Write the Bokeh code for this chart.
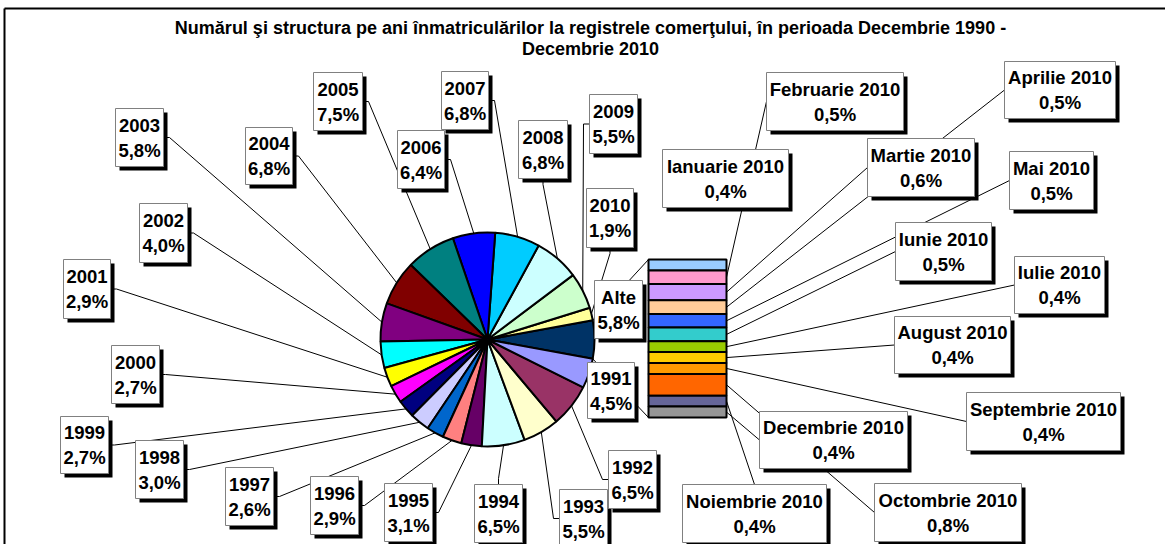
import math
from bokeh.plotting import figure
from bokeh.models import Range1d
from bokeh.embed import file_html
from bokeh.resources import INLINE
from bokeh.core.properties import value

# ---------------- data ----------------
title_lines = [
    "Numărul şi structura pe ani înmatriculărilor la registrele comerţului, în perioada Decembrie 1990 -",
    "Decembrie 2010",
]
years = ["1991", "1992", "1993", "1994", "1995", "1996", "1997", "1998", "1999", "2000",
         "2001", "2002", "2003", "2004", "2005", "2006", "2007", "2008", "2009", "2010"]
year_pct = [4.5, 6.5, 5.5, 6.5, 3.1, 2.9, 2.6, 3.0, 2.7, 2.7,
            2.9, 4.0, 5.8, 6.8, 7.5, 6.4, 6.8, 6.8, 5.5, 1.9]
other_label = "Alte"
months = ["Ianuarie 2010", "Februarie 2010", "Martie 2010", "Aprilie 2010", "Mai 2010",
          "Iunie 2010", "Iulie 2010", "August 2010", "Septembrie 2010", "Octombrie 2010",
          "Noiembrie 2010", "Decembrie 2010"]
month_pct = [0.4, 0.5, 0.6, 0.5, 0.5, 0.5, 0.4, 0.4, 0.4, 0.8, 0.4, 0.4]
other_pct = round(sum(month_pct), 1)

# ---------------- styles ----------------
year_colors = ["#9999FF", "#993366", "#FFFFCC", "#CCFFFF", "#660066", "#FF8080", "#0066CC",
               "#CCCCFF", "#000080", "#FF00FF", "#FFFF00", "#00FFFF", "#800080", "#800000",
               "#008080", "#0000FF", "#00CCFF", "#CCFFFF", "#CCFFCC", "#FFFF99"]
other_color = "#003366"
month_colors = ["#99CCFF", "#FF99CC", "#CC99FF", "#FFCC99", "#3366FF", "#33CCCC",
                "#99CC00", "#FFCC00", "#FF9900", "#FF6600", "#666699", "#969696"]
FONT = value("Liberation Sans")

# ---------------- layout (screen px: left, top, right, bottom, leader side) ----------------
W, H = 1165, 544
def Y(sy):
    return 544 - sy

label_boxes = {
    "1991": (587, 362, 634, 418, None), "1992": (608, 450, 656, 508, "l"),
    "1993": (559, 489, 607, 547, "l"), "1994": (474, 484, 522, 542, "t"),
    "1995": (384, 483, 432, 541, "r"), "1996": (310, 476, 358, 534, "r"),
    "1997": (225, 467, 273, 525, "r"), "1998": (135, 440, 183, 498, "r"),
    "1999": (60, 416, 108, 473, "r"), "2000": (111, 345, 159, 403, "r"),
    "2001": (63, 259, 110, 318, "r"), "2002": (139, 203, 187, 262, "r"),
    "2003": (115, 108, 163, 166, "r"), "2004": (245, 127, 292, 184, "r"),
    "2005": (313, 72, 362, 130, "r"), "2006": (397, 130, 444, 188, "r"),
    "2007": (441, 71, 488, 129, "r"), "2008": (518, 120, 567, 178, "b"),
    "2009": (589, 94, 637, 153, "l"), "2010": (586, 188, 633, 247, "b"),
    "Alte": (594, 280, 642, 338, None),
    "Ianuarie 2010": (662, 149, 788, 207, None), "Februarie 2010": (766, 72, 903, 130, "l"),
    "Martie 2010": (867, 138, 974, 196, "l"), "Aprilie 2010": (1004, 61, 1115, 118, "l"),
    "Mai 2010": (1009, 151, 1093, 209, "l"), "Iunie 2010": (895, 222, 991, 280, "l"),
    "Iulie 2010": (1014, 256, 1104, 313, "l"), "August 2010": (894, 316, 1010, 373, "l"),
    "Septembrie 2010": (966, 392, 1120, 450, "l"), "Octombrie 2010": (874, 483, 1021, 541, "l"),
    "Noiembrie 2010": (682, 484, 826, 542, "t"), "Decembrie 2010": (759, 411, 907, 468, "l"),
}

p = figure(width=W, height=H, output_backend="svg", toolbar_location=None,
           x_range=Range1d(0, W), y_range=Range1d(544 - H, 544),
           min_border=0, outline_line_color=None)
p.axis.visible = False
p.grid.visible = False
p.background_fill_color = "white"

# frame
p.line(x=[4, 4], y=[Y(8), Y(544)], line_color="black", line_width=2)
p.line(x=[4, W], y=[Y(8), Y(8)], line_color="black", line_width=2)

# title
for i, t in enumerate(title_lines):
    p.text(x=[590], y=[Y(27 + 21 * i)], text=[t], text_font=FONT, text_font_style="bold",
           text_font_size="18px", text_align="center", text_baseline="middle", text_color="black")

# ---------------- pie ----------------
cx, cy, R = 487, Y(339), 107
total = sum(year_pct) + other_pct
rad_per = 2 * math.pi / total
half = other_pct * rad_per / 2
starts, ends, cols, mids = [-half], [half], [other_color], {}
mids[other_label] = 0.0
a = half
for name, v, c in reversed(list(zip(years, year_pct, year_colors))):
    starts.append(a)
    ends.append(a + v * rad_per)
    cols.append(c)
    mids[name] = a + v * rad_per / 2
    a += v * rad_per
p.wedge(x=cx, y=cy, radius=R, start_angle=starts, end_angle=ends, fill_color=cols,
        line_color="black", line_width=2)

# ---------------- stacked bar ----------------
bar_l, bar_r, bar_top = 648, 726, Y(259)
px_per = 158.0 / other_pct
tops, bots = [], []
y0 = bar_top
for v in month_pct:
    tops.append(y0)
    bots.append(y0 - v * px_per)
    y0 -= v * px_per
p.quad(left=bar_l, right=bar_r, top=tops, bottom=bots, fill_color=month_colors,
       line_color="black", line_width=2)

# connectors pie -> bar
xs, ys = [], []
for ang, by in ((half, bar_top), (-half, y0)):
    xs.append([cx + R * math.cos(ang), bar_l])
    ys.append([cy + R * math.sin(ang), by])
p.multi_line(xs=xs, ys=ys, line_color="black", line_width=1)

# ---------------- leader lines ----------------
def attach(box, elbow):
    l, t, r, b, side = box
    my, mx = (t + b) / 2, (l + r) / 2
    if side == "r":
        return [(r + elbow, my), (r, my)]
    if side == "l":
        return [(l - elbow, my), (l, my)]
    if side == "t":
        return [(mx, t - elbow), (mx, t)]
    return [(mx, b + elbow), (mx, b)]

lx, ly = [], []
for name in years + [other_label]:
    box = label_boxes[name]
    if box[4] is None:
        continue
    ang = mids[name]
    sx, sy = cx + R * math.cos(ang), cy + R * math.sin(ang)
    pts = attach(box, 6)
    lx.append([sx] + [q[0] for q in pts])
    ly.append([sy] + [Y(q[1]) for q in pts])
for name, t_, b_ in zip(months, tops, bots):
    box = label_boxes[name]
    if box[4] is None:
        continue
    pts = attach(box, 0)
    lx.append([bar_r] + [q[0] for q in pts])
    ly.append([(t_ + b_) / 2] + [Y(q[1]) for q in pts])
p.multi_line(xs=lx, ys=ly, line_color="black", line_width=1)

# ---------------- label boxes ----------------
def fmt(v):
    return ("%.1f" % v).replace(".", ",") + "%"

names = years + [other_label] + months
pcts = year_pct + [other_pct] + month_pct
L = [label_boxes[n][0] for n in names]
T = [Y(label_boxes[n][1]) for n in names]
Rr = [label_boxes[n][2] for n in names]
B = [Y(label_boxes[n][3]) for n in names]
p.quad(left=[v + 4 for v in L], right=[v + 4 for v in Rr], top=[v - 4 for v in T],
       bottom=[v - 4 for v in B], fill_color="black", line_color=None)
p.quad(left=L, right=Rr, top=T, bottom=B, fill_color="white", line_color="#808080", line_width=1)
cxs = [(l + r) / 2 for l, r in zip(L, Rr)]
cys = [(t + b) / 2 for t, b in zip(T, B)]
p.text(x=cxs, y=[c + 12.5 for c in cys], text=names, text_font=FONT, text_font_style="bold",
       text_font_size="18.5px", text_align="center", text_baseline="middle", text_color="black")
p.text(x=cxs, y=[c - 12.5 for c in cys], text=[fmt(v) for v in pcts], text_font=FONT,
       text_font_style="bold", text_font_size="18.5px", text_align="center",
       text_baseline="middle", text_color="black")

open("out.html", "w").write(file_html(p, INLINE))
